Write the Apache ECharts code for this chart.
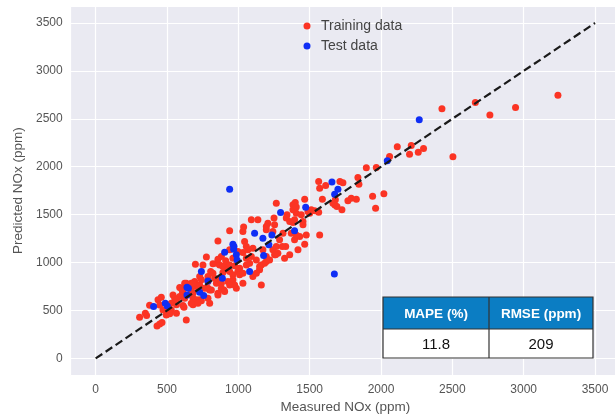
<!DOCTYPE html>
<html>
<head>
<meta charset="utf-8">
<script src="https://cdn.jsdelivr.net/npm/echarts@6/dist/echarts.min.js"></script>
<style>
  html, body { margin: 0; padding: 0; background: #ffffff; }
  #chart { width: 615px; height: 414px; }
</style>
</head>
<body>
<div id="chart"></div>
<script>
// Training set: measured vs predicted NOx (ppm)
const trainMeasured = [
  308, 348, 357, 378, 437, 460, 430, 449, 465, 495, 449, 472, 507, 530, 519, 566, 612, 542, 554, 530,
  566, 600, 612, 589, 624, 682, 670, 635, 589, 608, 635, 670, 659, 670, 682, 694, 566, 619,
  729, 787, 811, 899, 799, 857, 881, 850, 822, 869, 916, 776, 699, 806, 834, 846, 881, 927, 729, 706,
  741, 706, 741, 787, 857, 881, 939, 997, 962, 986, 916, 939, 892, 974, 962,
  939, 997, 1032, 1067, 857, 911, 962, 1091, 1254, 752, 939, 974, 1009, 1056, 1161, 1184, 1149, 729, 787, 822,
  892, 927, 624, 682, 787, 869, 939, 764, 799, 857, 904, 682, 717,
  1032, 1044, 1056, 1102, 1009, 1032, 1091, 1137, 1161, 1266, 1341, 1360, 1383, 1394, 1332, 1371, 1465, 1500, 1056, 1079,
  1126, 1149, 1102, 1196, 1219, 1172, 1242, 1266, 1289, 1242, 1313, 1254, 1196, 1207, 1277, 1324, 1360, 1418, 1406, 1441,
  1453, 1430, 1394, 1476, 1037, 1196, 1250, 1336, 1383, 1383, 1308, 1261, 1032, 1126, 1196, 1399, 1453, 1406, 1406,
  1465, 1589, 1563, 1570, 1612, 1712, 1733, 1680, 1768, 1791, 1827, 1962, 1677, 1691, 1726, 1570, 1488, 1511, 1535, 1563,
  1838, 1845, 1897, 1967, 2020, 1941, 2060, 2114, 2212, 2200, 2261, 2298, 2504, 2427, 2661, 2763, 2943, 3240, 1663
];
const trainPredicted = [
  430, 472, 447, 555, 611, 639, 339, 360, 374, 454, 558, 506, 524, 506, 465, 472, 551, 663, 628, 576,
  559, 733, 681, 645, 628, 628, 576, 402, 739, 697, 785, 785, 757, 715, 681, 802, 611, 534,
  611, 628, 715, 715, 576, 1226, 1063, 994, 987, 976, 987, 1057, 983, 906, 837, 785, 785, 802, 767, 750,
  820, 611, 603, 733, 681, 733, 1331, 906, 820, 733, 942, 906, 959, 767, 872,
  1133, 1115, 1105, 1133, 1036, 1018, 1046, 1063, 1081, 976, 976, 966, 942, 976, 976, 994, 924, 854, 854, 890,
  896, 924, 785, 785, 802, 820, 767, 733, 715, 663, 697, 559, 576,
  1324, 1219, 1167, 1150, 872, 785, 1446, 1446, 767, 1620, 1498, 1428, 1603, 1446, 1167, 1307, 1192, 1516, 1046, 994,
  1028, 959, 854, 1063, 1028, 1133, 1133, 1167, 1237, 1324, 1307, 1394, 1342, 1411, 1098, 1046, 1081, 1133, 1516, 1498,
  1394, 1272, 1237, 1289, 1370, 1376, 1464, 1464, 1550, 1418, 1167, 1081, 890, 890, 1011, 1626, 1428, 1289, 1579,
  1662, 1662, 1846, 1776, 1804, 1846, 1832, 1655, 1644, 1672, 1662, 1568, 1602, 1585, 1550, 1289, 1532, 1550, 1540, 1526,
  1887, 1818, 1989, 1992, 1717, 1693, 2106, 2208, 2221, 2131, 2152, 2190, 2103, 2604, 2670, 2539, 2618, 2745, 1620
];

// Test set: measured vs predicted NOx (ppm)
const testMeasured = [
  939, 1673, 2268, 2044, 1656, 1698, 1675, 1472, 1394, 1296, 1235, 1214, 1177, 1172, 1114, 1079, 986,
  991, 962, 969, 967, 904, 888, 787, 741, 729, 757, 640, 650, 640, 488, 502, 406
];
const testPredicted = [
  1766, 882, 2490, 2062, 1842, 1766, 1714, 1578, 1331, 1522, 1289, 1185, 1073, 1255, 1307, 906, 1081,
  1028, 1192, 1167, 1140, 1109, 837, 809, 906, 691, 656, 743, 733, 663, 576, 548, 541
];

// Perfect-prediction reference line (y = x)
const parityLine = [0, 3500];

// Tick values shown on both axes
const axisTicks = [0, 500, 1000, 1500, 2000, 2500, 3000, 3500];

// Error metrics box
const metricHeaders = ['MAPE (%)', 'RMSE (ppm)'];
const metricValues = ['11.8', '209'];

const FONT = '"Liberation Sans", Arial, sans-serif';

function pairs(xs, ys) {
  return xs.map((x, i) => [x, ys[i]]);
}

function tickLabel(v) {
  return axisTicks.indexOf(v) >= 0 ? String(v) : '';
}

const valueAxisBase = {
  type: 'value',
  min: -175,
  max: 3675,
  splitNumber: 7,
  axisLine: { show: false },
  axisTick: { show: false },
  splitLine: { show: true, lineStyle: { color: '#ffffff', width: 1.2 } },
  nameTextStyle: { color: '#555555', fontSize: 13.5, fontFamily: FONT },
  nameLocation: 'middle'
};

// Metrics table drawn as graphic elements
const table = { left: 383, top: 297, colWidths: [106, 104], headHeight: 32, rowHeight: 29 };
function buildTable() {
  const els = [];
  const totalW = table.colWidths[0] + table.colWidths[1];
  const totalH = table.headHeight + table.rowHeight;
  els.push({ type: 'rect', shape: { x: table.left, y: table.top, width: totalW, height: table.headHeight },
    style: { fill: '#0b7dc3' }, z: 100 });
  els.push({ type: 'rect', shape: { x: table.left, y: table.top + table.headHeight, width: totalW, height: table.rowHeight },
    style: { fill: '#ffffff' }, z: 100 });
  // borders
  const stroke = { stroke: '#333333', lineWidth: 1.2, fill: null };
  els.push({ type: 'rect', shape: { x: table.left, y: table.top, width: totalW, height: totalH }, style: stroke, z: 102 });
  els.push({ type: 'line', shape: { x1: table.left, y1: table.top + table.headHeight, x2: table.left + totalW, y2: table.top + table.headHeight },
    style: { stroke: '#333333', lineWidth: 1.2 }, z: 102 });
  els.push({ type: 'line', shape: { x1: table.left + table.colWidths[0], y1: table.top, x2: table.left + table.colWidths[0], y2: table.top + totalH },
    style: { stroke: '#333333', lineWidth: 1.2 }, z: 102 });
  let x = table.left;
  for (let c = 0; c < 2; c++) {
    const cx = x + table.colWidths[c] / 2;
    els.push({ type: 'text', z: 103, style: {
      text: metricHeaders[c], x: cx, y: table.top + table.headHeight / 2 + 1,
      align: 'center', verticalAlign: 'middle', fill: '#ffffff',
      fontSize: 13.5, fontWeight: 'bold', fontFamily: FONT } });
    els.push({ type: 'text', z: 103, style: {
      text: metricValues[c], x: cx, y: table.top + table.headHeight + table.rowHeight / 2 + 1,
      align: 'center', verticalAlign: 'middle', fill: '#111111',
      fontSize: 15, fontFamily: FONT } });
    x += table.colWidths[c];
  }
  return els;
}

const chart = echarts.init(document.getElementById('chart'), null, { renderer: 'canvas' });
chart.setOption({
  animation: false,
  backgroundColor: '#ffffff',
  grid: {
    left: 70.7, top: 6.2, width: 549.3, height: 369,
    outerBoundsMode: 'none',
    containLabel: false,
    show: true, backgroundColor: '#eaeaf2', borderWidth: 0
  },
  legend: {
    orient: 'vertical',
    left: 298.5,
    top: 14,
    itemWidth: 18,
    itemHeight: 7,
    itemGap: 6,
    icon: 'circle',
    textStyle: { color: '#444444', fontSize: 14, fontFamily: FONT },
    data: ['Training data', 'Test data']
  },
  xAxis: Object.assign({}, valueAxisBase, {
    name: 'Measured NOx (ppm)',
    nameGap: 24,
    axisLabel: { color: '#555555', fontSize: 12, fontFamily: FONT, margin: 8, formatter: tickLabel }
  }),
  yAxis: Object.assign({}, valueAxisBase, {
    name: 'Predicted NOx (ppm)',
    nameGap: 38,
    axisLabel: { color: '#555555', fontSize: 12, fontFamily: FONT, margin: 8, formatter: tickLabel }
  }),
  series: [
    {
      name: 'Training data',
      type: 'scatter',
      symbolSize: 7,
      itemStyle: { color: '#fb3424', opacity: 1 },
      data: pairs(trainMeasured, trainPredicted),
      z: 2
    },
    {
      name: 'Test data',
      type: 'scatter',
      symbolSize: 7,
      itemStyle: { color: '#0f2ef5', opacity: 1 },
      data: pairs(testMeasured, testPredicted),
      z: 3
    },
    {
      name: 'y = x',
      type: 'line',
      data: parityLine.map(v => [v, v]),
      symbol: 'none',
      silent: true,
      lineStyle: { color: '#1a1a1a', width: 2.2, type: [8, 4] },
      z: 4
    }
  ],
  graphic: buildTable()
});
</script>
</body>
</html>
